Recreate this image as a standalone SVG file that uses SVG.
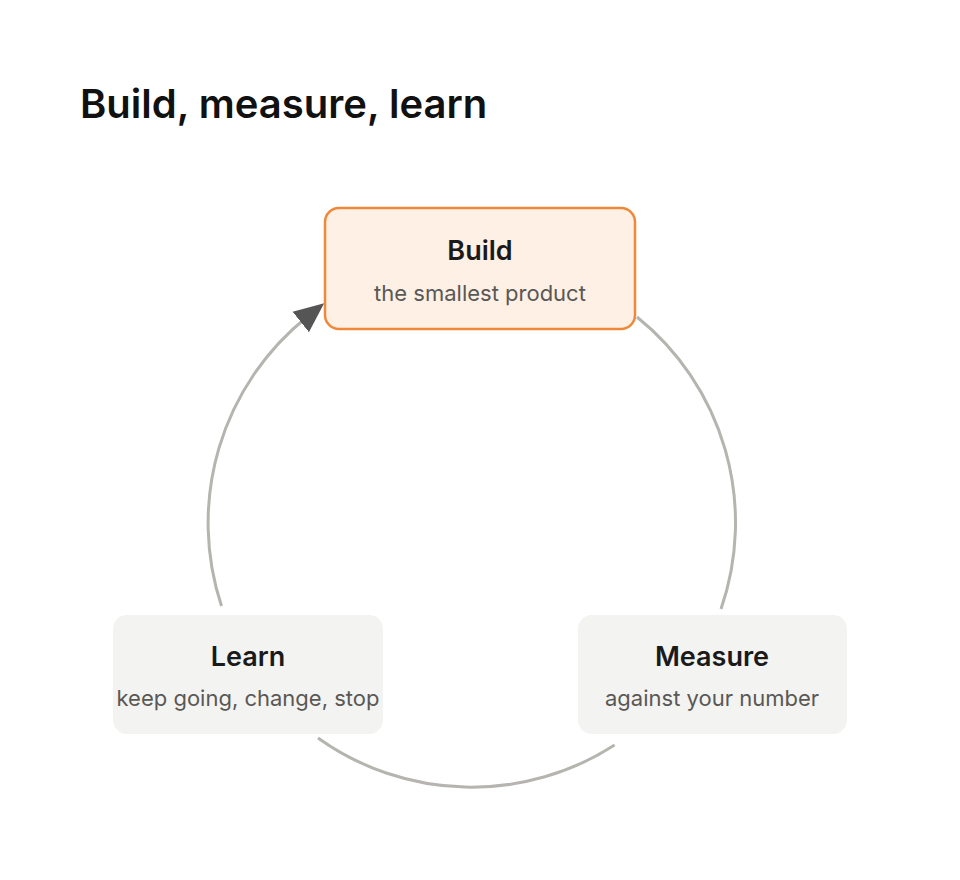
<svg xmlns="http://www.w3.org/2000/svg" width="960" height="880" viewBox="0 0 960 880">
<style>
text{font-family:Inter,"Liberation Sans",sans-serif;text-anchor:middle}
.t{font-size:27px;font-weight:600;fill:#1a1a1a}
.s{font-size:22px;fill:#5a5855}
.arc{fill:none;stroke:#b6b4af;stroke-width:3}
.n{fill:#f3f3f1}
</style>
<defs>
<marker id="ah" markerUnits="userSpaceOnUse" markerWidth="30" markerHeight="30" viewBox="0 0 30 30" refX="8" refY="15" orient="auto">
<path d="M0,2 L30,15 L0,28 Z" fill="#555"/>
</marker>
</defs>
<rect width="960" height="880" fill="#fff"/>
<text x="80" y="118" style="text-anchor:start;font-size:40px;font-weight:600;fill:#111">Build, measure, learn</text>
<g id="connectors">
<path class="arc" d="M637,317 A264,264 0 0 1 721,609"/>
<path class="arc" d="M614.6,745 A264,264 0 0 1 318,738"/>
<path class="arc" d="M221.5,606 A264,264 0 0 1 307,317" marker-end="url(#ah)"/>
</g>
<g id="build">
<rect x="325" y="208" width="310" height="121" rx="14" fill="#fef0e4" stroke="#f0883a" stroke-width="2.5"/>
<text class="t" x="480" y="260">Build</text>
<text class="s" x="480" y="301">the smallest product</text>
</g>
<g id="learn">
<rect class="n" x="113" y="615" width="270" height="119" rx="14"/>
<text class="t" x="248" y="666">Learn</text>
<text class="s" x="248" y="706">keep going, change, stop</text>
</g>
<g id="measure">
<rect class="n" x="578" y="615" width="269" height="119" rx="14"/>
<text class="t" x="712" y="666">Measure</text>
<text class="s" x="712" y="706">against your number</text>
</g>
</svg>
